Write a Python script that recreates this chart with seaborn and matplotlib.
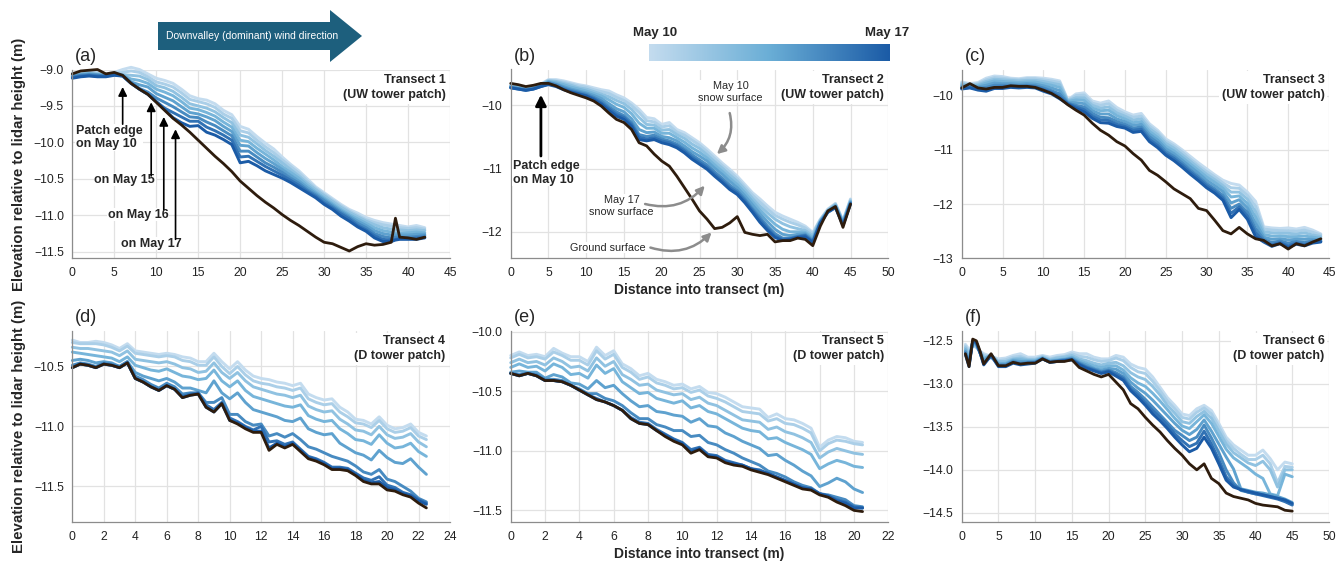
"""Snow surface retreat along six lidar transects, May 10 to May 17."""

import matplotlib.pyplot as plt
import numpy as np
import pandas as pd
import seaborn as sns
from matplotlib.colors import LinearSegmentedColormap
from matplotlib.patches import Polygon

days = ["May 10", "May 11", "May 12", "May 13", "May 14", "May 15", "May 16", "May 17"]

# ---- Transect 1 (UW tower patch) ----
a_x = list(range(0, 39)) + [38.5, 39, 40, 41, 42]
a_ground = [-9.06, -9.02, -9.01, -9.00, -9.06, -9.04, -9.08, -9.19, -9.27, -9.34, -9.45, -9.56, -9.67, -9.76,
            -9.86, -9.97, -10.08, -10.19, -10.29, -10.40, -10.53, -10.63, -10.73, -10.82, -10.90, -10.99, -11.07,
            -11.14, -11.22, -11.30, -11.37, -11.39, -11.44, -11.49, -11.43, -11.39, -11.41, -11.40, -11.37, -11.04,
            -11.30, -11.31, -11.33, -11.30]
a_snow = [
    [-9.05, -9.04, -9.03, -9.04, -9.06, -9.04, -9.00, -8.97, -9.00, -9.06, -9.12, -9.15, -9.19, -9.27, -9.36, -9.40,
     -9.42, -9.47, -9.56, -9.62, -9.78, -9.82, -9.92, -10.01, -10.09, -10.20, -10.30, -10.39, -10.50, -10.61, -10.69,
     -10.77, -10.85, -10.92, -10.97, -11.03, -11.07, -11.10, -11.12, -11.13, -11.14, -11.16, -11.14, -11.17],
    [-9.06, -9.05, -9.04, -9.05, -9.07, -9.05, -9.04, -9.02, -9.04, -9.10, -9.17, -9.20, -9.24, -9.32, -9.41, -9.44,
     -9.47, -9.52, -9.61, -9.67, -9.84, -9.87, -9.97, -10.06, -10.14, -10.24, -10.33, -10.42, -10.53, -10.63, -10.71,
     -10.79, -10.87, -10.94, -11.00, -11.06, -11.10, -11.13, -11.15, -11.16, -11.17, -11.18, -11.17, -11.19],
    [-9.07, -9.06, -9.05, -9.06, -9.07, -9.05, -9.07, -9.08, -9.09, -9.14, -9.22, -9.25, -9.30, -9.38, -9.47, -9.50,
     -9.53, -9.58, -9.66, -9.73, -9.90, -9.93, -10.02, -10.11, -10.19, -10.28, -10.37, -10.46, -10.56, -10.65, -10.73,
     -10.81, -10.89, -10.96, -11.02, -11.08, -11.13, -11.17, -11.19, -11.20, -11.20, -11.21, -11.20, -11.21],
    [-9.08, -9.07, -9.06, -9.07, -9.08, -9.06, -9.08, -9.13, -9.15, -9.19, -9.27, -9.31, -9.36, -9.44, -9.53, -9.55,
     -9.59, -9.64, -9.72, -9.79, -9.97, -9.99, -10.08, -10.16, -10.24, -10.33, -10.41, -10.49, -10.59, -10.68, -10.76,
     -10.84, -10.92, -10.99, -11.05, -11.11, -11.17, -11.21, -11.23, -11.24, -11.24, -11.24, -11.23, -11.24],
    [-9.09, -9.07, -9.06, -9.07, -9.08, -9.06, -9.08, -9.17, -9.21, -9.24, -9.33, -9.38, -9.43, -9.51, -9.59, -9.61,
     -9.65, -9.70, -9.78, -9.85, -10.04, -10.05, -10.14, -10.22, -10.29, -10.37, -10.45, -10.53, -10.62, -10.70, -10.78,
     -10.86, -10.94, -11.01, -11.08, -11.14, -11.21, -11.25, -11.27, -11.27, -11.27, -11.27, -11.26, -11.26],
    [-9.10, -9.08, -9.07, -9.08, -9.09, -9.07, -9.08, -9.18, -9.26, -9.31, -9.39, -9.45, -9.51, -9.58, -9.65, -9.66,
     -9.72, -9.77, -9.84, -9.91, -10.12, -10.12, -10.20, -10.28, -10.34, -10.41, -10.49, -10.56, -10.65, -10.72, -10.80,
     -10.88, -10.96, -11.03, -11.11, -11.17, -11.25, -11.29, -11.31, -11.30, -11.30, -11.30, -11.29, -11.28],
    [-9.11, -9.09, -9.08, -9.09, -9.09, -9.07, -9.09, -9.19, -9.27, -9.34, -9.44, -9.53, -9.59, -9.65, -9.71, -9.71,
     -9.79, -9.84, -9.90, -9.97, -10.20, -10.19, -10.26, -10.33, -10.39, -10.45, -10.52, -10.59, -10.67, -10.74, -10.83,
     -10.90, -10.98, -11.05, -11.14, -11.20, -11.28, -11.33, -11.34, -11.33, -11.32, -11.32, -11.31, -11.30],
    [-9.12, -9.10, -9.09, -9.10, -9.10, -9.08, -9.09, -9.19, -9.27, -9.34, -9.44, -9.55, -9.66, -9.73, -9.78, -9.77,
     -9.86, -9.90, -9.96, -10.03, -10.28, -10.26, -10.32, -10.39, -10.44, -10.49, -10.55, -10.62, -10.69, -10.76, -10.85,
     -10.92, -11.01, -11.08, -11.16, -11.22, -11.31, -11.36, -11.36, -11.34, -11.33, -11.33, -11.33, -11.31],
]

# ---- Transect 2 (UW tower patch) ----
b_x = list(range(0, 46))
b_ground = [-9.65, -9.67, -9.70, -9.68, -9.65, -9.65, -9.69, -9.75, -9.80, -9.84, -9.88, -9.93, -10.01, -10.12,
            -10.22, -10.27, -10.38, -10.59, -10.64, -10.77, -10.88, -10.96, -11.12, -11.30, -11.48, -11.67, -11.80,
            -11.95, -11.93, -11.86, -11.76, -12.01, -12.04, -12.06, -12.04, -12.16, -12.14, -12.14, -12.10, -12.12,
            -12.22, -11.91, -11.67, -11.60, -11.93, -11.56]
b_snow = [
    [-9.68, -9.70, -9.72, -9.70, -9.66, -9.59, -9.59, -9.61, -9.64, -9.67, -9.69, -9.72, -9.75, -9.77, -9.83, -9.88,
     -9.96, -10.06, -10.19, -10.21, -10.30, -10.27, -10.38, -10.43, -10.51, -10.59, -10.69, -10.80, -10.91, -11.01,
     -11.12, -11.25, -11.38, -11.48, -11.59, -11.69, -11.75, -11.80, -11.85, -11.91, -12.01, -11.80, -11.64, -11.55,
     -11.82, -11.48],
    [-9.69, -9.71, -9.73, -9.71, -9.67, -9.60, -9.61, -9.63, -9.66, -9.69, -9.71, -9.75, -9.78, -9.81, -9.87, -9.92,
     -10.00, -10.11, -10.24, -10.26, -10.34, -10.32, -10.42, -10.47, -10.55, -10.63, -10.73, -10.84, -10.95, -11.05,
     -11.16, -11.29, -11.42, -11.53, -11.64, -11.74, -11.80, -11.85, -11.89, -11.94, -12.03, -11.81, -11.65, -11.56,
     -11.83, -11.49],
    [-9.69, -9.71, -9.73, -9.71, -9.67, -9.61, -9.62, -9.65, -9.68, -9.72, -9.74, -9.78, -9.82, -9.86, -9.92, -9.97,
     -10.06, -10.19, -10.30, -10.31, -10.39, -10.38, -10.46, -10.52, -10.61, -10.68, -10.78, -10.89, -10.99, -11.10,
     -11.20, -11.33, -11.47, -11.59, -11.70, -11.80, -11.87, -11.92, -11.95, -11.98, -12.06, -11.82, -11.66, -11.57,
     -11.84, -11.51],
    [-9.70, -9.72, -9.74, -9.72, -9.68, -9.62, -9.64, -9.67, -9.71, -9.74, -9.77, -9.81, -9.85, -9.91, -9.98, -10.03,
     -10.13, -10.28, -10.36, -10.36, -10.44, -10.44, -10.51, -10.58, -10.67, -10.74, -10.83, -10.94, -11.04, -11.15,
     -11.25, -11.38, -11.52, -11.65, -11.77, -11.88, -11.96, -12.00, -12.00, -12.01, -12.09, -11.83, -11.67, -11.58,
     -11.85, -11.52],
    [-9.71, -9.73, -9.75, -9.73, -9.69, -9.63, -9.66, -9.70, -9.74, -9.77, -9.80, -9.84, -9.89, -9.97, -10.05, -10.10,
     -10.21, -10.38, -10.43, -10.42, -10.49, -10.51, -10.56, -10.64, -10.73, -10.80, -10.88, -10.99, -11.09, -11.20,
     -11.30, -11.43, -11.57, -11.71, -11.84, -11.96, -12.04, -12.06, -12.04, -12.03, -12.12, -11.84, -11.67, -11.59,
     -11.86, -11.53],
    [-9.71, -9.73, -9.75, -9.73, -9.69, -9.64, -9.67, -9.72, -9.76, -9.79, -9.82, -9.87, -9.93, -10.02, -10.10, -10.16,
     -10.27, -10.46, -10.49, -10.47, -10.53, -10.56, -10.61, -10.69, -10.78, -10.86, -10.94, -11.05, -11.15, -11.26,
     -11.35, -11.48, -11.63, -11.77, -11.91, -12.03, -12.10, -12.10, -12.07, -12.05, -12.14, -11.85, -11.68, -11.60,
     -11.88, -11.54],
    [-9.72, -9.74, -9.76, -9.74, -9.70, -9.66, -9.69, -9.74, -9.78, -9.81, -9.84, -9.89, -9.96, -10.05, -10.14, -10.19,
     -10.30, -10.50, -10.53, -10.51, -10.56, -10.59, -10.64, -10.72, -10.82, -10.90, -10.98, -11.09, -11.19, -11.30,
     -11.38, -11.51, -11.66, -11.81, -11.95, -12.07, -12.12, -12.11, -12.08, -12.06, -12.16, -11.86, -11.69, -11.61,
     -11.89, -11.55],
    [-9.72, -9.74, -9.76, -9.74, -9.70, -9.67, -9.70, -9.75, -9.79, -9.82, -9.85, -9.91, -9.98, -10.08, -10.17, -10.22,
     -10.33, -10.54, -10.56, -10.54, -10.59, -10.62, -10.67, -10.75, -10.85, -10.93, -11.01, -11.12, -11.22, -11.33,
     -11.41, -11.54, -11.69, -11.85, -11.98, -12.09, -12.14, -12.12, -12.09, -12.08, -12.17, -11.86, -11.69, -11.62,
     -11.90, -11.56],
]

# ---- Transect 3 (UW tower patch) ----
c_x = list(range(0, 45))
c_ground = [-9.86, -9.78, -9.86, -9.88, -9.85, -9.85, -9.82, -9.83, -9.83, -9.85, -9.90, -9.96, -10.05, -10.17,
            -10.27, -10.36, -10.51, -10.64, -10.73, -10.85, -10.93, -11.07, -11.19, -11.38, -11.47, -11.59, -11.72,
            -11.81, -11.90, -12.08, -12.12, -12.30, -12.49, -12.55, -12.43, -12.55, -12.64, -12.67, -12.77, -12.73,
            -12.83, -12.73, -12.77, -12.70, -12.64]
c_snow = [
    [-9.75, -9.78, -9.76, -9.68, -9.64, -9.65, -9.68, -9.69, -9.67, -9.67, -9.68, -9.70, -9.73, -10.08, -9.97, -9.95,
     -10.10, -10.14, -10.10, -10.22, -10.30, -10.36, -10.33, -10.52, -10.64, -10.80, -10.89, -11.00, -11.12, -11.24,
     -11.35, -11.46, -11.56, -11.62, -11.65, -11.78, -11.95, -12.42, -12.44, -12.45, -12.44, -12.46, -12.43, -12.48,
     -12.55],
    [-9.77, -9.80, -9.78, -9.71, -9.67, -9.68, -9.70, -9.71, -9.69, -9.69, -9.71, -9.73, -9.76, -10.09, -10.00, -9.99,
     -10.14, -10.18, -10.15, -10.27, -10.34, -10.40, -10.38, -10.56, -10.68, -10.84, -10.93, -11.04, -11.17, -11.29,
     -11.40, -11.50, -11.61, -11.70, -11.71, -11.84, -12.04, -12.46, -12.48, -12.49, -12.49, -12.50, -12.48, -12.52,
     -12.57],
    [-9.79, -9.81, -9.80, -9.74, -9.70, -9.71, -9.72, -9.73, -9.72, -9.72, -9.74, -9.77, -9.80, -10.10, -10.04, -10.04,
     -10.18, -10.23, -10.21, -10.32, -10.38, -10.45, -10.43, -10.61, -10.72, -10.88, -10.97, -11.09, -11.21, -11.33,
     -11.45, -11.55, -11.66, -11.78, -11.78, -11.91, -12.14, -12.51, -12.53, -12.54, -12.54, -12.55, -12.53, -12.57,
     -12.60],
    [-9.81, -9.82, -9.82, -9.77, -9.73, -9.74, -9.75, -9.76, -9.75, -9.75, -9.78, -9.81, -9.85, -10.11, -10.08, -10.09,
     -10.23, -10.28, -10.27, -10.37, -10.43, -10.50, -10.48, -10.66, -10.77, -10.93, -11.02, -11.14, -11.26, -11.38,
     -11.50, -11.60, -11.71, -11.87, -11.85, -11.99, -12.24, -12.56, -12.59, -12.59, -12.60, -12.60, -12.59, -12.61,
     -12.63],
    [-9.83, -9.83, -9.84, -9.81, -9.77, -9.78, -9.78, -9.79, -9.78, -9.79, -9.82, -9.86, -9.91, -10.13, -10.13, -10.15,
     -10.28, -10.34, -10.34, -10.43, -10.48, -10.55, -10.53, -10.71, -10.82, -10.98, -11.07, -11.19, -11.31, -11.43,
     -11.56, -11.66, -11.77, -11.98, -11.92, -12.07, -12.35, -12.61, -12.65, -12.64, -12.66, -12.65, -12.65, -12.65,
     -12.66],
    [-9.85, -9.84, -9.86, -9.85, -9.81, -9.81, -9.81, -9.82, -9.81, -9.82, -9.86, -9.91, -9.97, -10.14, -10.18, -10.21,
     -10.33, -10.40, -10.41, -10.48, -10.53, -10.60, -10.58, -10.76, -10.87, -11.03, -11.12, -11.24, -11.37, -11.49,
     -11.62, -11.72, -11.84, -12.08, -12.00, -12.15, -12.45, -12.65, -12.71, -12.68, -12.72, -12.69, -12.71, -12.68,
     -12.68],
    [-9.87, -9.85, -9.88, -9.89, -9.85, -9.84, -9.83, -9.84, -9.83, -9.84, -9.89, -9.94, -10.02, -10.15, -10.21, -10.26,
     -10.38, -10.45, -10.46, -10.53, -10.57, -10.64, -10.62, -10.81, -10.92, -11.07, -11.16, -11.28, -11.41, -11.53,
     -11.66, -11.76, -11.89, -12.17, -12.05, -12.22, -12.53, -12.68, -12.75, -12.71, -12.77, -12.72, -12.75, -12.70,
     -12.69],
    [-9.88, -9.86, -9.90, -9.92, -9.87, -9.87, -9.85, -9.86, -9.85, -9.86, -9.92, -9.97, -10.06, -10.16, -10.24, -10.30,
     -10.42, -10.50, -10.51, -10.57, -10.60, -10.68, -10.66, -10.85, -10.96, -11.10, -11.20, -11.32, -11.45, -11.57,
     -11.70, -11.80, -11.93, -12.25, -12.10, -12.28, -12.60, -12.70, -12.78, -12.73, -12.80, -12.74, -12.77, -12.72,
     -12.70],
]

# ---- Transect 4 (D tower patch) ----
d_x = [i * 0.5 for i in range(46)]
d_ground = [-10.51, -10.48, -10.49, -10.51, -10.48, -10.49, -10.51, -10.47, -10.60, -10.63, -10.67, -10.70, -10.66,
            -10.69, -10.76, -10.74, -10.73, -10.84, -10.88, -10.81, -10.95, -10.98, -11.02, -11.05, -11.05, -11.20,
            -11.15, -11.18, -11.15, -11.21, -11.27, -11.29, -11.32, -11.36, -11.36, -11.37, -11.41, -11.46, -11.48,
            -11.48, -11.53, -11.54, -11.57, -11.59, -11.64, -11.68]
d_snow = [
    [-10.28, -10.30, -10.30, -10.29, -10.30, -10.32, -10.35, -10.31, -10.37, -10.38, -10.39, -10.40, -10.39, -10.40,
     -10.42, -10.43, -10.46, -10.46, -10.39, -10.46, -10.52, -10.46, -10.53, -10.58, -10.60, -10.61, -10.63, -10.64,
     -10.66, -10.64, -10.73, -10.76, -10.78, -10.77, -10.84, -10.88, -10.94, -10.95, -10.98, -10.92, -10.99, -11.02,
     -11.01, -10.98, -11.05, -11.08],
    [-10.30, -10.31, -10.31, -10.31, -10.32, -10.34, -10.37, -10.33, -10.39, -10.40, -10.41, -10.42, -10.41, -10.42,
     -10.45, -10.46, -10.49, -10.49, -10.42, -10.50, -10.56, -10.50, -10.57, -10.62, -10.64, -10.65, -10.67, -10.68,
     -10.70, -10.68, -10.77, -10.80, -10.82, -10.81, -10.88, -10.92, -10.97, -10.98, -11.01, -10.95, -11.02, -11.05,
     -11.04, -11.01, -11.08, -11.11],
    [-10.34, -10.35, -10.35, -10.36, -10.37, -10.38, -10.41, -10.37, -10.44, -10.45, -10.46, -10.47, -10.46, -10.48,
     -10.51, -10.52, -10.55, -10.54, -10.47, -10.55, -10.60, -10.55, -10.62, -10.67, -10.69, -10.71, -10.73, -10.74,
     -10.76, -10.74, -10.83, -10.86, -10.88, -10.87, -10.94, -10.98, -11.03, -11.04, -11.07, -11.00, -11.07, -11.10,
     -11.09, -11.06, -11.13, -11.17],
    [-10.38, -10.39, -10.40, -10.41, -10.42, -10.43, -10.46, -10.42, -10.49, -10.51, -10.53, -10.54, -10.52, -10.55,
     -10.58, -10.59, -10.61, -10.60, -10.53, -10.62, -10.67, -10.62, -10.70, -10.75, -10.77, -10.79, -10.81, -10.83,
     -10.84, -10.82, -10.91, -10.94, -10.96, -10.95, -11.02, -11.06, -11.11, -11.12, -11.15, -11.07, -11.14, -11.18,
     -11.17, -11.14, -11.21, -11.25],
    [-10.45, -10.44, -10.45, -10.47, -10.46, -10.47, -10.50, -10.46, -10.55, -10.58, -10.60, -10.62, -10.60, -10.63,
     -10.68, -10.68, -10.70, -10.72, -10.62, -10.72, -10.77, -10.72, -10.80, -10.86, -10.88, -10.90, -10.92, -10.95,
     -10.96, -10.93, -11.02, -11.05, -11.07, -11.06, -11.14, -11.18, -11.22, -11.24, -11.28, -11.20, -11.26, -11.30,
     -11.31, -11.27, -11.34, -11.40],
    [-10.49, -10.47, -10.48, -10.50, -10.47, -10.48, -10.50, -10.46, -10.58, -10.61, -10.65, -10.68, -10.64, -10.67,
     -10.73, -10.72, -10.72, -10.80, -10.80, -10.76, -10.90, -10.90, -10.96, -10.99, -10.98, -11.08, -11.06, -11.09,
     -11.06, -11.11, -11.17, -11.19, -11.22, -11.25, -11.27, -11.29, -11.33, -11.38, -11.40, -11.36, -11.44, -11.46,
     -11.50, -11.54, -11.60, -11.63],
    [-10.51, -10.48, -10.49, -10.51, -10.48, -10.49, -10.51, -10.47, -10.60, -10.63, -10.67, -10.70, -10.66, -10.69,
     -10.75, -10.73, -10.72, -10.82, -10.86, -10.80, -10.93, -10.96, -11.00, -11.03, -11.00, -11.13, -11.12, -11.15,
     -11.13, -11.19, -11.25, -11.27, -11.30, -11.34, -11.34, -11.35, -11.39, -11.43, -11.45, -11.42, -11.49, -11.51,
     -11.55, -11.57, -11.61, -11.64],
    [-10.51, -10.48, -10.49, -10.51, -10.48, -10.49, -10.51, -10.47, -10.60, -10.63, -10.67, -10.70, -10.66, -10.69,
     -10.76, -10.74, -10.73, -10.84, -10.88, -10.81, -10.95, -10.97, -11.01, -11.04, -11.04, -11.18, -11.14, -11.17,
     -11.14, -11.20, -11.26, -11.28, -11.31, -11.35, -11.35, -11.36, -11.40, -11.45, -11.47, -11.46, -11.51, -11.53,
     -11.56, -11.58, -11.62, -11.65],
]

# ---- Transect 5 (D tower patch) ----
e_x = [i * 0.5 for i in range(42)]
e_ground = [-10.35, -10.37, -10.35, -10.37, -10.41, -10.41, -10.42, -10.45, -10.49, -10.53, -10.57, -10.59, -10.62,
            -10.66, -10.73, -10.77, -10.78, -10.83, -10.88, -10.92, -10.95, -11.02, -10.99, -11.05, -11.06, -11.10,
            -11.12, -11.13, -11.16, -11.18, -11.20, -11.23, -11.26, -11.29, -11.32, -11.33, -11.37, -11.39, -11.43,
            -11.46, -11.50, -11.51]
e_snow = [
    [-10.20, -10.17, -10.20, -10.19, -10.21, -10.14, -10.18, -10.21, -10.21, -10.25, -10.13, -10.20, -10.16, -10.27,
     -10.31, -10.37, -10.35, -10.40, -10.42, -10.45, -10.44, -10.48, -10.46, -10.51, -10.52, -10.55, -10.59, -10.63,
     -10.64, -10.65, -10.72, -10.69, -10.73, -10.74, -10.77, -10.81, -10.97, -10.91, -10.88, -10.89, -10.92, -10.93],
    [-10.22, -10.19, -10.22, -10.21, -10.23, -10.17, -10.20, -10.24, -10.24, -10.28, -10.16, -10.23, -10.19, -10.30,
     -10.34, -10.40, -10.38, -10.43, -10.45, -10.48, -10.47, -10.51, -10.49, -10.54, -10.56, -10.59, -10.63, -10.67,
     -10.68, -10.69, -10.75, -10.73, -10.77, -10.78, -10.81, -10.85, -11.00, -10.94, -10.91, -10.92, -10.94, -10.95],
    [-10.26, -10.23, -10.26, -10.25, -10.28, -10.22, -10.25, -10.30, -10.29, -10.33, -10.22, -10.29, -10.25, -10.36,
     -10.40, -10.45, -10.44, -10.49, -10.51, -10.53, -10.52, -10.57, -10.55, -10.60, -10.62, -10.66, -10.70, -10.74,
     -10.75, -10.76, -10.82, -10.80, -10.84, -10.86, -10.89, -10.93, -11.06, -11.01, -10.98, -11.00, -11.02, -11.03],
    [-10.30, -10.27, -10.30, -10.29, -10.33, -10.27, -10.30, -10.36, -10.35, -10.39, -10.28, -10.35, -10.31, -10.42,
     -10.47, -10.52, -10.51, -10.56, -10.58, -10.60, -10.58, -10.64, -10.62, -10.67, -10.69, -10.73, -10.77, -10.81,
     -10.83, -10.84, -10.90, -10.89, -10.93, -10.96, -10.99, -11.03, -11.15, -11.11, -11.08, -11.10, -11.13, -11.14],
    [-10.34, -10.33, -10.34, -10.34, -10.39, -10.36, -10.38, -10.43, -10.44, -10.48, -10.41, -10.47, -10.45, -10.52,
     -10.58, -10.63, -10.62, -10.67, -10.68, -10.70, -10.71, -10.76, -10.73, -10.79, -10.80, -10.85, -10.88, -10.92,
     -10.95, -10.98, -11.04, -11.03, -11.08, -11.12, -11.17, -11.21, -11.30, -11.27, -11.23, -11.26, -11.32, -11.35],
    [-10.35, -10.36, -10.35, -10.36, -10.40, -10.40, -10.41, -10.45, -10.48, -10.52, -10.52, -10.56, -10.58, -10.62,
     -10.68, -10.73, -10.73, -10.78, -10.80, -10.83, -10.83, -10.88, -10.87, -10.93, -10.95, -10.99, -11.02, -11.06,
     -11.09, -11.12, -11.17, -11.19, -11.22, -11.26, -11.29, -11.31, -11.36, -11.37, -11.39, -11.41, -11.46, -11.47],
    [-10.35, -10.37, -10.35, -10.37, -10.41, -10.41, -10.42, -10.45, -10.49, -10.53, -10.56, -10.59, -10.62, -10.66,
     -10.72, -10.76, -10.77, -10.82, -10.86, -10.90, -10.93, -10.99, -10.97, -11.03, -11.04, -11.08, -11.10, -11.12,
     -11.15, -11.16, -11.19, -11.22, -11.25, -11.28, -11.31, -11.32, -11.36, -11.38, -11.41, -11.43, -11.47, -11.48],
    [-10.35, -10.37, -10.35, -10.37, -10.41, -10.41, -10.42, -10.45, -10.49, -10.53, -10.57, -10.59, -10.62, -10.66,
     -10.73, -10.77, -10.78, -10.83, -10.87, -10.91, -10.94, -11.01, -10.98, -11.04, -11.05, -11.09, -11.11, -11.12,
     -11.15, -11.17, -11.19, -11.22, -11.25, -11.28, -11.31, -11.32, -11.36, -11.38, -11.42, -11.44, -11.48, -11.48],
]

# ---- Transect 6 (D tower patch) ----
f_x = [0.5, 1, 1.5, 2, 2.5] + list(range(3, 46))
f_ground = [-12.65, -12.80, -12.48, -12.50, -12.62, -12.77, -12.65, -12.79, -12.79, -12.75, -12.77, -12.76, -12.76,
            -12.71, -12.75, -12.74, -12.74, -12.72, -12.81, -12.85, -12.89, -12.92, -12.89, -12.98, -13.07, -13.23,
            -13.29, -13.39, -13.48, -13.56, -13.66, -13.75, -13.83, -13.93, -14.00, -13.93, -14.10, -14.16, -14.27,
            -14.31, -14.33, -14.35, -14.39, -14.41, -14.42, -14.43, -14.47, -14.48]
f_snow = [
    [-12.54, -12.60, -12.55, -12.58, -12.62, -12.65, -12.68, -12.71, -12.70, -12.67, -12.65, -12.69, -12.69, -12.67,
     -12.69, -12.67, -12.66, -12.63, -12.65, -12.65, -12.69, -12.71, -12.71, -12.67, -12.69, -12.77, -12.81, -12.83,
     -12.92, -13.04, -13.16, -13.25, -13.35, -13.37, -13.29, -13.25, -13.31, -13.46, -13.62, -13.71, -13.77, -13.83,
     -13.83, -13.77, -13.87, -14.00, -13.91, -13.93],
    [-12.56, -12.63, -12.55, -12.57, -12.63, -12.67, -12.69, -12.73, -12.72, -12.69, -12.68, -12.71, -12.71, -12.68,
     -12.71, -12.69, -12.68, -12.65, -12.68, -12.69, -12.72, -12.74, -12.73, -12.70, -12.73, -12.81, -12.86, -12.88,
     -12.97, -13.08, -13.20, -13.29, -13.39, -13.41, -13.33, -13.28, -13.35, -13.50, -13.66, -13.75, -13.82, -13.88,
     -13.88, -13.83, -13.93, -14.15, -13.96, -13.97],
    [-12.58, -12.66, -12.54, -12.56, -12.63, -12.69, -12.70, -12.74, -12.74, -12.71, -12.70, -12.72, -12.72, -12.69,
     -12.72, -12.70, -12.69, -12.67, -12.71, -12.73, -12.76, -12.78, -12.76, -12.75, -12.79, -12.87, -12.92, -12.95,
     -13.03, -13.13, -13.25, -13.34, -13.44, -13.46, -13.38, -13.32, -13.40, -13.55, -13.70, -13.80, -13.86, -13.92,
     -13.95, -13.90, -14.00, -14.20, -14.00, -14.00],
    [-12.60, -12.70, -12.53, -12.55, -12.63, -12.71, -12.66, -12.76, -12.76, -12.72, -12.72, -12.73, -12.73, -12.70,
     -12.73, -12.72, -12.71, -12.69, -12.73, -12.76, -12.79, -12.81, -12.79, -12.79, -12.84, -12.93, -12.99, -13.03,
     -13.11, -13.20, -13.30, -13.40, -13.49, -13.52, -13.44, -13.36, -13.46, -13.61, -13.76, -13.86, -13.92, -13.98,
     -14.05, -14.10, -14.28, -14.30, -14.05, -14.08],
    [-12.62, -12.73, -12.52, -12.54, -12.64, -12.73, -12.66, -12.77, -12.77, -12.73, -12.74, -12.74, -12.74, -12.70,
     -12.74, -12.73, -12.72, -12.70, -12.75, -12.78, -12.82, -12.84, -12.82, -12.83, -12.88, -12.98, -13.05, -13.11,
     -13.19, -13.28, -13.37, -13.46, -13.54, -13.59, -13.53, -13.42, -13.55, -13.70, -13.85, -13.99, -14.22, -14.24,
     -14.26, -14.27, -14.29, -14.31, -14.34, -14.38],
    [-12.63, -12.76, -12.51, -12.53, -12.64, -12.75, -12.67, -12.78, -12.78, -12.74, -12.76, -12.75, -12.75, -12.71,
     -12.74, -12.73, -12.72, -12.71, -12.76, -12.80, -12.83, -12.86, -12.84, -12.87, -12.92, -13.03, -13.10, -13.18,
     -13.27, -13.36, -13.45, -13.54, -13.60, -13.66, -13.62, -13.48, -13.63, -13.80, -14.00, -14.15, -14.24, -14.26,
     -14.28, -14.29, -14.31, -14.33, -14.36, -14.40],
    [-12.65, -12.78, -12.50, -12.52, -12.64, -12.77, -12.67, -12.79, -12.79, -12.75, -12.77, -12.76, -12.75, -12.71,
     -12.75, -12.74, -12.73, -12.72, -12.77, -12.81, -12.84, -12.87, -12.85, -12.89, -12.94, -13.06, -13.13, -13.22,
     -13.31, -13.39, -13.48, -13.58, -13.66, -13.73, -13.69, -13.55, -13.70, -13.88, -14.08, -14.18, -14.23, -14.26,
     -14.28, -14.30, -14.32, -14.34, -14.37, -14.41],
    [-12.66, -12.80, -12.50, -12.52, -12.64, -12.78, -12.67, -12.80, -12.80, -12.76, -12.78, -12.77, -12.76, -12.71,
     -12.75, -12.74, -12.73, -12.72, -12.78, -12.82, -12.85, -12.88, -12.86, -12.91, -12.96, -13.08, -13.16, -13.25,
     -13.35, -13.43, -13.52, -13.62, -13.71, -13.79, -13.75, -13.62, -13.75, -13.93, -14.12, -14.20, -14.23, -14.25,
     -14.27, -14.29, -14.31, -14.33, -14.35, -14.39],
]

W, H = 1338, 563
blue_stops = ["#c4dcef", "#6aaed6", "#1b5ba6"]
snow_colors = sns.blend_palette(blue_stops, len(days))
ground_color = "#2e1c0d"
grey = "#8c8c8c"

sns.set_style("white")
plt.rcParams["font.family"] = ["Liberation Sans", "DejaVu Sans"]

fig = plt.figure(figsize=(W / 100, H / 100), dpi=100)


def px_rect(left, top, right, bottom):
    return [left / W, 1 - bottom / H, (right - left) / W, (bottom - top) / H]


def draw_transect(ax, x, ground, snow, xlim, ylim, xticks, yticks, ydec, name, patch):
    long = pd.concat([pd.DataFrame({"x": x, "elev": s, "day": d}) for d, s in zip(days, snow)])
    sns.lineplot(data=long, x="x", y="elev", hue="day", hue_order=days, palette=snow_colors,
                 estimator=None, sort=False, legend=False, lw=2.1, clip_on=False,
                 solid_joinstyle="round", ax=ax)
    sns.lineplot(x=x, y=ground, color=ground_color, estimator=None, sort=False, lw=2.0,
                 clip_on=False, solid_joinstyle="round", ax=ax)
    ax.set_xlim(*xlim)
    ax.set_ylim(*ylim)
    ax.set_xticks(xticks)
    ax.set_yticks(yticks)
    ax.set_yticklabels([f"{v:.{ydec}f}".replace("-", "\u2212") for v in yticks])
    ax.grid(True, color="#e2e2e2", lw=0.9)
    ax.set_axisbelow(True)
    sns.despine(ax=ax)
    for side in ("left", "bottom"):
        ax.spines[side].set_color(grey)
        ax.spines[side].set_linewidth(0.9)
    ax.tick_params(length=4, width=0.8, color=grey, labelsize=8.7, labelcolor="#222222", pad=2)
    ax.set_xlabel("")
    ax.set_ylabel("")
    ax.text(0.988, 0.975, f"{name}\n({patch})", transform=ax.transAxes, ha="right", va="top",
            multialignment="right", fontsize=9, fontweight="bold", linespacing=1.35,
            bbox=dict(fc="white", ec="none", pad=2), zorder=5)


panels = [
    ("(a)", px_rect(72.3, 69.5, 450, 258.3), a_x, a_ground, a_snow, (0, 45), (-11.59, -9.0),
     range(0, 46, 5), [-9.0, -9.5, -10.0, -10.5, -11.0, -11.5], 1, "Transect 1", "UW tower patch"),
    ("(b)", px_rect(510.7, 69.5, 888.3, 258.3), b_x, b_ground, b_snow, (0, 50), (-12.42, -9.43),
     range(0, 51, 5), [-10, -11, -12], 0, "Transect 2", "UW tower patch"),
    ("(c)", px_rect(961.7, 69.5, 1329, 258.3), c_x, c_ground, c_snow, (0, 45), (-13.0, -9.52),
     range(0, 46, 5), [-10, -11, -12, -13], 0, "Transect 3", "UW tower patch"),
    ("(d)", px_rect(72.3, 330.5, 450, 522.3), d_x, d_ground, d_snow, (0, 24), (-11.80, -10.20),
     range(0, 25, 2), [-10.5, -11.0, -11.5], 1, "Transect 4", "D tower patch"),
    ("(e)", px_rect(510.7, 330.5, 888.3, 522.3), e_x, e_ground, e_snow, (0, 22), (-11.60, -9.99),
     range(0, 23, 2), [-10.0, -10.5, -11.0, -11.5], 1, "Transect 5", "D tower patch"),
    ("(f)", px_rect(961.7, 330.5, 1329, 522.3), f_x, f_ground, f_snow, (0, 50), (-14.61, -12.38),
     range(0, 51, 5), [-12.5, -13.0, -13.5, -14.0, -14.5], 1, "Transect 6", "D tower patch"),
]

axes = {}
for letter, rect, x, g, s, xlim, ylim, xt, yt, dec, name, patch in panels:
    ax = fig.add_axes(rect)
    draw_transect(ax, x, g, s, xlim, ylim, list(xt), yt, dec, name, patch)
    fig.text(rect[0] + 3 / W, rect[1] + rect[3] + 13 / H, letter, fontsize=13,
             ha="left", va="center")
    axes[letter] = ax

for key in ("(a)", "(d)"):
    axes[key].set_ylabel("Elevation relative to lidar height (m)", fontsize=10.8, fontweight="bold")
    axes[key].yaxis.set_label_coords(-0.122, 0.5)
for key in ("(b)", "(e)"):
    axes[key].set_xlabel("Distance into transect (m)", fontsize=10, fontweight="bold", labelpad=3)

# annotations, transect 1
ax = axes["(a)"]
black_arrow = dict(arrowstyle="-|>", color="black", lw=1.2, mutation_scale=13, shrinkA=0, shrinkB=0)
label_box = dict(fc="white", ec="none", pad=0.5)
ax.text(0.44, -9.93, "Patch edge\non May 10", fontsize=9, fontweight="bold", ha="left", va="center",
        linespacing=1.15, bbox=label_box, zorder=4)
ax.text(2.63, -10.51, "on May 15", fontsize=9, fontweight="bold", ha="left", va="center",
        bbox=label_box, zorder=4)
ax.text(4.23, -10.99, "on May 16", fontsize=9, fontweight="bold", ha="left", va="center",
        bbox=label_box, zorder=4)
ax.text(5.82, -11.39, "on May 17", fontsize=9, fontweight="bold", ha="left", va="center",
        bbox=label_box, zorder=4)
for ax_x, tip, tail in [(6.0, -9.24, -9.75), (9.4, -9.45, -10.46), (10.9, -9.65, -10.92), (12.3, -9.82, -11.33)]:
    ax.annotate("", xy=(ax_x, tip), xytext=(ax_x, tail), arrowprops=black_arrow, zorder=6)

# annotations, transect 2
ax = axes["(b)"]
ax.text(0.26, -11.07, "Patch edge\non May 10", fontsize=9, fontweight="bold", ha="left", va="center",
        linespacing=1.15, bbox=label_box, zorder=4)
ax.annotate("", xy=(4.0, -9.83), xytext=(4.0, -10.8),
            arrowprops=dict(arrowstyle="-|>", color="black", lw=2.0, mutation_scale=16, shrinkA=0, shrinkB=0),
            zorder=6)
ax.text(29.1, -9.785, "May 10\nsnow surface", fontsize=7.8, ha="center", va="center", linespacing=1.2,
        bbox=label_box, zorder=4)
ax.text(14.7, -11.59, "May 17\nsnow surface", fontsize=7.8, ha="center", va="center", linespacing=1.2,
        bbox=label_box, zorder=4)
ax.text(12.9, -12.25, "Ground surface", fontsize=7.8, ha="center", va="center", bbox=label_box, zorder=4)
grey_arrow = dict(arrowstyle="-|>", color=grey, lw=1.8, mutation_scale=12, shrinkA=0, shrinkB=0)
ax.annotate("", xy=(27.3, -10.77), xytext=(29.0, -10.12),
            arrowprops=dict(grey_arrow, connectionstyle="arc3,rad=-0.3"), zorder=6)
ax.annotate("", xy=(25.7, -11.27), xytext=(17.8, -11.56),
            arrowprops=dict(grey_arrow, connectionstyle="arc3,rad=0.3"), zorder=6)
ax.annotate("", xy=(26.6, -12.01), xytext=(18.5, -12.25),
            arrowprops=dict(grey_arrow, connectionstyle="arc3,rad=0.3"), zorder=6)

# wind direction arrow
arrow_px = [(158, 22), (330, 22), (330, 10), (362, 36), (330, 62), (330, 50), (158, 50)]
fig.add_artist(Polygon([(px / W, 1 - py / H) for px, py in arrow_px], closed=True,
                       transform=fig.transFigure, fc="#1d5f7d", ec="none"))
fig.text(252 / W, 1 - 36 / H, "Downvalley (dominant) wind direction", color="white", fontsize=7.5,
         ha="center", va="center")

# colour bar for the survey days
cax = fig.add_axes(px_rect(649, 44, 890, 61))
cmap = LinearSegmentedColormap.from_list("days", blue_stops)
cax.imshow(np.linspace(0, 1, 256)[None, :], aspect="auto", cmap=cmap)
cax.axis("off")
fig.text(655 / W, 1 - 33 / H, days[0], fontsize=9.5, fontweight="bold", ha="center", va="center")
fig.text(887 / W, 1 - 33 / H, days[-1], fontsize=9.5, fontweight="bold", ha="center", va="center")

fig.savefig("out.png", dpi=100)
